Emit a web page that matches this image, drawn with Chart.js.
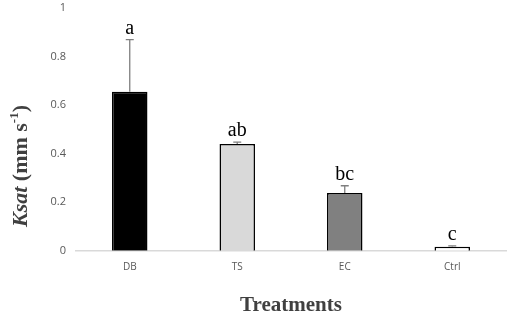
<!DOCTYPE html>
<html>
<head>
<meta charset="utf-8">
<script src="https://cdn.jsdelivr.net/npm/chart.js@4"></script>
<style>
  html, body { margin: 0; padding: 0; background: #fff; }
  #wrap { width: 510px; height: 320px; }
</style>
</head>
<body>
<div id="wrap"><canvas id="ksat_chart"></canvas></div>
<script>
const treatments = ['DB', 'TS', 'EC', 'Ctrl'];
const ksat = [0.655, 0.44, 0.238, 0.017];
const ksatErr = [0.215, 0.008, 0.03, 0.003];
const letters = ['a', 'ab', 'bc', 'c'];
const fills = ['#000000', '#d9d9d9', '#808080', '#ffffff'];

// error bars + significance letters
const errorBars = {
  id: 'errorBars',
  afterDatasetsDraw(chart) {
    const ctx = chart.ctx;
    const y = chart.scales.y;
    const meta = chart.getDatasetMeta(0);
    ctx.save();
    meta.data.forEach((bar, i) => {
      const top = y.getPixelForValue(ksat[i] + ksatErr[i]);
      ctx.strokeStyle = '#7f7f7f';
      ctx.lineWidth = 1.3;
      ctx.beginPath();
      ctx.moveTo(bar.x, bar.y);
      ctx.lineTo(bar.x, top);
      ctx.moveTo(bar.x - 4, top);
      ctx.lineTo(bar.x + 4, top);
      ctx.stroke();
      ctx.fillStyle = '#000';
      ctx.font = '20px "Liberation Serif"';
      ctx.textAlign = 'center';
      ctx.textBaseline = 'bottom';
      ctx.fillText(letters[i], bar.x, top - 1);
    });
    ctx.restore();
  }
};

// y title: italic Ksat, bold (mm s-1) with superscript
const yTitle = {
  id: 'yTitle',
  afterDraw(chart) {
    const ctx = chart.ctx;
    ctx.save();
    ctx.translate(27, 166);
    ctx.rotate(-Math.PI / 2);
    ctx.fillStyle = '#404040';
    ctx.textBaseline = 'alphabetic';
    const p1 = 'Ksat';
    const p2 = ' (mm s';
    const p3 = '-1';
    const p4 = ')';
    const f1 = 'italic bold 22px "Liberation Serif"';
    const f2 = 'bold 22px "Liberation Serif"';
    const f3 = 'bold 13px "Liberation Serif"';
    ctx.font = f1; const w1 = ctx.measureText(p1).width;
    ctx.font = f2; const w2 = ctx.measureText(p2).width; const w4 = ctx.measureText(p4).width;
    ctx.font = f3; const w3 = ctx.measureText(p3).width;
    let x = -(w1 + w2 + w3 + w4) / 2;
    ctx.textAlign = 'left';
    ctx.font = f1; ctx.fillText(p1, x, 0); x += w1;
    ctx.font = f2; ctx.fillText(p2, x, 0); x += w2;
    ctx.font = f3; ctx.fillText(p3, x, -9); x += w3;
    ctx.font = f2; ctx.fillText(p4, x, 0);
    ctx.restore();
  }
};

new Chart(document.getElementById('ksat_chart'), {
  type: 'bar',
  data: {
    labels: treatments,
    datasets: [{
      data: ksat,
      backgroundColor: fills,
      borderColor: '#000',
      borderWidth: 1.5,
      barPercentage: 0.66,
      categoryPercentage: 0.5
    }]
  },
  options: {
    responsive: true,
    maintainAspectRatio: false,
    animation: false,
    layout: { padding: { top: 8, right: 4, left: 0, bottom: 2 } },
    plugins: { legend: { display: false }, tooltip: { enabled: false } },
    scales: {
      x: {
        grid: { display: false, drawTicks: false },
        border: { color: '#d9d9d9', width: 1.5 },
        ticks: { color: '#595959', font: { family: 'Open Sans', size: 10 }, padding: 10 },
        title: {
          display: true,
          text: 'Treatments',
          color: '#404040',
          font: { family: 'Liberation Serif', size: 21, weight: 'bold' },
          padding: { top: 10, bottom: 0 }
        }
      },
      y: {
        min: 0,
        max: 1,
        grid: { display: false, drawTicks: false },
        border: { display: false },
        ticks: {
          stepSize: 0.2,
          color: '#595959',
          font: { family: 'Open Sans', size: 11 },
          padding: 10,
          callback: v => String(+v.toFixed(1))
        },
        afterFit(scale) {
          scale.width = 76;
          scale.paddingTop = 0;
          scale.paddingBottom = 0;
        }
      }
    }
  },
  plugins: [errorBars, yTitle]
});
</script>
</body>
</html>
